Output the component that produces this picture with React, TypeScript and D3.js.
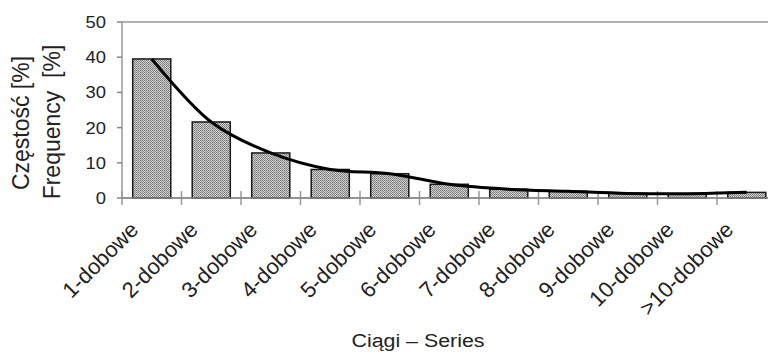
import React, { useRef, useEffect } from 'react';
import * as d3 from 'd3';

const categories = [
  '1-dobowe', '2-dobowe', '3-dobowe', '4-dobowe', '5-dobowe', '6-dobowe',
  '7-dobowe', '8-dobowe', '9-dobowe', '10-dobowe', '>10-dobowe',
];
const frequency = [39.5, 21.6, 12.8, 8.1, 6.9, 3.9, 2.5, 1.9, 1.3, 1.2, 1.6];
const yTicks = [0, 10, 20, 30, 40, 50];
const yTitlePl = 'Częstość [%]';
const yTitleEn = 'Frequency  [%]';
const xTitle = 'Ciągi – Series';

const width = 768;
const height = 356;
const font = '"Liberation Sans", Arial, sans-serif';

const FrequencyChart = () => {
  const svgRef = useRef<SVGSVGElement>(null);

  useEffect(() => {
    const svg = d3.select(svgRef.current);
    svg.selectAll('*').remove();

    const margin = { top: 22, left: 122, bottom: 158 };
    const step = 59.5;
    const plotBottom = height - margin.bottom;
    const plotRight = margin.left + step * categories.length;

    const xScale = d3.scaleBand<string>()
      .domain(categories)
      .range([margin.left, plotRight])
      .paddingInner(0.36)
      .paddingOuter(0.18);
    const xBounds = d3.scaleBand<string>()
      .domain(categories)
      .range([margin.left, plotRight]);
    const yScale = d3.scaleLinear().domain([0, 50]).range([plotBottom, margin.top]);

    // fine dotted fill like the scanned bars
    const pat = svg.append('defs').append('pattern')
      .attr('id', 'dots')
      .attr('width', 2)
      .attr('height', 2)
      .attr('patternUnits', 'userSpaceOnUse');
    pat.append('rect').attr('width', 2).attr('height', 2).attr('fill', '#cdcdcd');
    pat.append('rect').attr('width', 1).attr('height', 1).attr('fill', '#7e7e7e');
    pat.append('rect').attr('x', 1).attr('y', 1).attr('width', 1).attr('height', 1).attr('fill', '#8a8a8a');

    // plot frame
    svg.append('rect')
      .attr('x', margin.left)
      .attr('y', yScale(50))
      .attr('width', plotRight - margin.left)
      .attr('height', plotBottom - yScale(50))
      .attr('fill', 'none')
      .attr('stroke', '#999')
      .attr('stroke-width', 1.5);

    // y ticks + labels
    const yAxis = svg.append('g');
    yTicks.forEach((t) => {
      yAxis.append('line')
        .attr('x1', margin.left - 5).attr('x2', margin.left)
        .attr('y1', yScale(t)).attr('y2', yScale(t))
        .attr('stroke', '#888').attr('stroke-width', 1.5);
      yAxis.append('text')
        .attr('transform', `translate(${margin.left - 16},${yScale(t) + 6}) scale(1.15,1)`)
        .attr('text-anchor', 'end')
        .attr('font-size', 16)
        .attr('fill', '#222')
        .text(t);
    });

    // x ticks
    const bounds = categories.map((c) => xBounds(c) as number).concat([plotRight]);
    svg.append('g').selectAll('line')
      .data(bounds)
      .enter()
      .append('line')
      .attr('x1', (d) => d).attr('x2', (d) => d)
      .attr('y1', plotBottom - 7).attr('y2', plotBottom + 7)
      .attr('stroke', '#999').attr('stroke-width', 1.5);

    // bars
    svg.append('g').selectAll('rect')
      .data(frequency)
      .enter()
      .append('rect')
      .attr('x', (d, i) => xScale(categories[i]) as number)
      .attr('y', (d) => yScale(d))
      .attr('width', xScale.bandwidth())
      .attr('height', (d) => plotBottom - yScale(d))
      .attr('fill', 'url(#dots)')
      .attr('stroke', '#1a1a1a')
      .attr('stroke-width', 1.5);

    // bottom axis line on top of bars
    svg.append('line')
      .attr('x1', margin.left).attr('x2', plotRight)
      .attr('y1', plotBottom).attr('y2', plotBottom)
      .attr('stroke', '#888').attr('stroke-width', 1.5);

    // smoothed line through bar tops
    const line = d3.line<number>()
      .x((d, i) => (xScale(categories[i]) as number) + xScale.bandwidth() / 2)
      .y((d) => yScale(d))
      .curve(d3.curveCatmullRom.alpha(0.5));
    svg.append('path')
      .datum(frequency)
      .attr('fill', 'none')
      .attr('stroke', '#000')
      .attr('stroke-width', 3)
      .attr('d', line);

    // category labels
    svg.append('g').selectAll('text')
      .data(categories)
      .enter()
      .append('text')
      .attr('transform', (d) => {
        const cx = (xScale(d) as number) + xScale.bandwidth() / 2;
        return `translate(${cx - 12},${plotBottom + 33}) rotate(-45)`;
      })
      .attr('text-anchor', 'end')
      .attr('font-size', 22)
      .attr('fill', '#222')
      .text((d) => d);

    // axis titles
    svg.append('text')
      .attr('transform', `translate(${418},${347}) scale(1.15,1)`)
      .attr('text-anchor', 'middle')
      .attr('font-size', 18.6)
      .attr('fill', '#222')
      .text(xTitle);

    svg.append('text')
      .attr('transform', 'translate(29,123) rotate(-90)')
      .attr('text-anchor', 'middle')
      .attr('font-size', 23)
      .attr('fill', '#222')
      .text(yTitlePl);

    svg.append('text')
      .attr('transform', 'translate(60,122) rotate(-90)')
      .attr('text-anchor', 'middle')
      .attr('font-size', 23)
      .attr('fill', '#222')
      .style('white-space', 'pre')
      .text(yTitleEn);
  }, []);

  return (
    <svg
      ref={svgRef}
      width={width}
      height={height}
      style={{ position: 'absolute', left: 0, top: 0, background: '#fff', fontFamily: font }}
    />
  );
};

export default function App() {
  return <FrequencyChart />;
}
